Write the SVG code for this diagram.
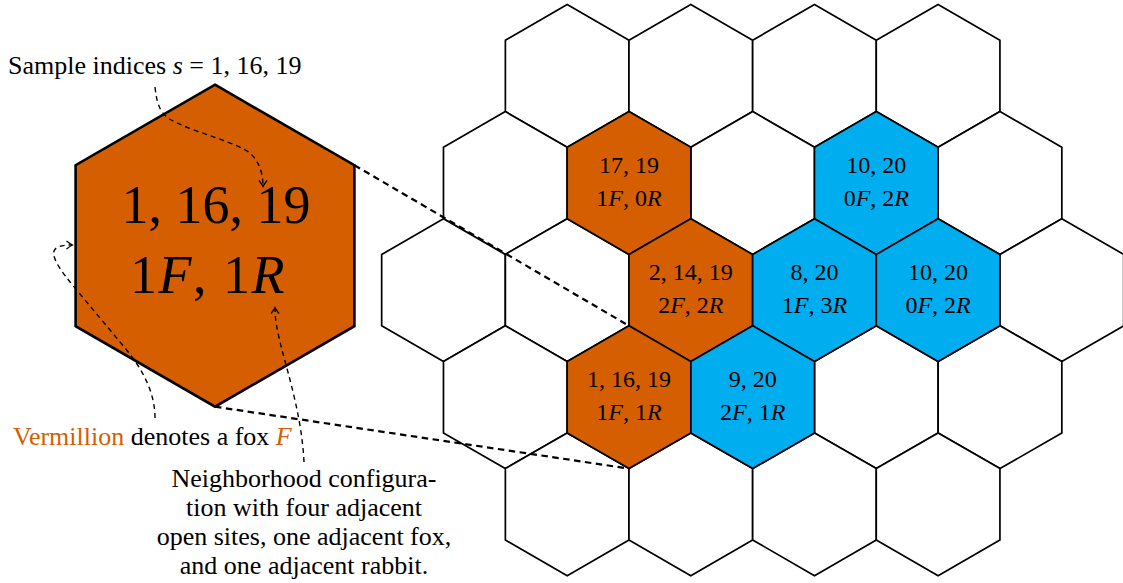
<svg xmlns="http://www.w3.org/2000/svg" xmlns:xlink="http://www.w3.org/1999/xlink" width="1123" height="583" viewBox="0 0 1123 583">
<style>
.hx{stroke:#000;stroke-width:1.7;stroke-linejoin:miter}
.w{fill:#fff}
.o{fill:#D55E00}
.b{fill:#00AEEF}
.t{font-family:"Liberation Serif","Times New Roman",serif;font-size:24px;fill:#000;text-anchor:middle}
.big{font-family:"Liberation Serif","Times New Roman",serif;font-size:54px;fill:#000;text-anchor:middle}
.lab{font-family:"Liberation Serif","Times New Roman",serif;font-size:26px;fill:#000}
.i{font-style:italic}
.ver{fill:#D55E00}
.conn{fill:none;stroke:#000;stroke-width:2.2;stroke-dasharray:6.5 4.5}
.ann{fill:none;stroke:#000;stroke-width:1.4;stroke-dasharray:5 4;marker-end:url(#arr)}
</style>
<defs>
<polygon id="hex" points="0,-71.4 61.83,-35.7 61.83,35.7 0,71.4 -61.83,35.7 -61.83,-35.7"/>
<marker id="arr" markerWidth="14" markerHeight="14" refX="0" refY="0" viewBox="-7 -7 14 14" orient="auto" markerUnits="userSpaceOnUse">
<path d="M-5.5,-4 Q-2,-1.2 0.5,0 Q-2,1.2 -5.5,4" fill="none" stroke="#000" stroke-width="1.3"/>
</marker>
</defs>
<g id="grid">
<g id="row0">
<use xlink:href="#hex" href="#hex" x="567.2" y="75.9" class="hx w"/>
<use xlink:href="#hex" href="#hex" x="690.8" y="75.9" class="hx w"/>
<use xlink:href="#hex" href="#hex" x="814.5" y="75.9" class="hx w"/>
<use xlink:href="#hex" href="#hex" x="938.1" y="75.9" class="hx w"/>
</g>
<g id="row1">
<use xlink:href="#hex" href="#hex" x="505.3" y="183" class="hx w"/>
<use xlink:href="#hex" href="#hex" x="752.7" y="183" class="hx w"/>
<use xlink:href="#hex" href="#hex" x="1000" y="183" class="hx w"/>
</g>
<g id="row2">
<use xlink:href="#hex" href="#hex" x="443.5" y="290.1" class="hx w"/>
<use xlink:href="#hex" href="#hex" x="567.2" y="290.1" class="hx w"/>
<use xlink:href="#hex" href="#hex" x="1061.8" y="290.1" class="hx w"/>
</g>
<g id="row3">
<use xlink:href="#hex" href="#hex" x="505.3" y="397.2" class="hx w"/>
<use xlink:href="#hex" href="#hex" x="876.3" y="397.2" class="hx w"/>
<use xlink:href="#hex" href="#hex" x="1000" y="397.2" class="hx w"/>
</g>
<g id="row4">
<use xlink:href="#hex" href="#hex" x="567.2" y="504.3" class="hx w"/>
<use xlink:href="#hex" href="#hex" x="690.8" y="504.3" class="hx w"/>
<use xlink:href="#hex" href="#hex" x="814.5" y="504.3" class="hx w"/>
<use xlink:href="#hex" href="#hex" x="938.1" y="504.3" class="hx w"/>
</g>
</g>
<g id="cell-17-19">
<use xlink:href="#hex" href="#hex" x="629" y="183" class="hx o"/>
<text class="t" x="629" y="172.7">17, 19</text>
<text class="t" x="629" y="205.5">1<tspan class="i">F</tspan>, 0<tspan class="i">R</tspan></text>
</g>
<g id="cell-10-20-a">
<use xlink:href="#hex" href="#hex" x="876.3" y="183" class="hx b"/>
<text class="t" x="876.3" y="172.7">10, 20</text>
<text class="t" x="876.3" y="205.5">0<tspan class="i">F</tspan>, 2<tspan class="i">R</tspan></text>
</g>
<g id="cell-2-14-19">
<use xlink:href="#hex" href="#hex" x="690.8" y="290.1" class="hx o"/>
<text class="t" x="690.8" y="279.8">2, 14, 19</text>
<text class="t" x="690.8" y="312.6">2<tspan class="i">F</tspan>, 2<tspan class="i">R</tspan></text>
</g>
<g id="cell-8-20">
<use xlink:href="#hex" href="#hex" x="814.5" y="290.1" class="hx b"/>
<text class="t" x="814.5" y="279.8">8, 20</text>
<text class="t" x="814.5" y="312.6">1<tspan class="i">F</tspan>, 3<tspan class="i">R</tspan></text>
</g>
<g id="cell-10-20-b">
<use xlink:href="#hex" href="#hex" x="938.1" y="290.1" class="hx b"/>
<text class="t" x="938.1" y="279.8">10, 20</text>
<text class="t" x="938.1" y="312.6">0<tspan class="i">F</tspan>, 2<tspan class="i">R</tspan></text>
</g>
<g id="cell-1-16-19">
<use xlink:href="#hex" href="#hex" x="629" y="397.2" class="hx o"/>
<text class="t" x="629" y="386.9">1, 16, 19</text>
<text class="t" x="629" y="419.7">1<tspan class="i">F</tspan>, 1<tspan class="i">R</tspan></text>
</g>
<g id="cell-9-20">
<use xlink:href="#hex" href="#hex" x="752.7" y="397.2" class="hx b"/>
<text class="t" x="752.7" y="386.9">9, 20</text>
<text class="t" x="752.7" y="419.7">2<tspan class="i">F</tspan>, 1<tspan class="i">R</tspan></text>
</g>
<g id="big-hex">
<polygon points="215,84.7 354.4,165.2 354.4,326.2 215,406.7 75.6,326.2 75.6,165.2" fill="#D55E00" stroke="#000" stroke-width="2.6"/>
<text class="big" x="216" y="223.3">1, 16, 19</text>
<text class="big" x="208" y="293.3" letter-spacing="1.5">1<tspan class="i">F</tspan>, 1<tspan class="i">R</tspan></text>
</g>
<g id="connectors">
<line class="conn" x1="354.4" y1="165.2" x2="629" y2="325.8"/>
<line class="conn" x1="215" y1="406.7" x2="629" y2="468.6"/>
<path class="ann" d="M155,87 C157,105 160,115 175,122 C200,134 235,142 250,153 C260,162 263,175 263,186"/>
<path class="ann" d="M155,418 C155,395 145,372 125,348 L75,288 C60,270 52,258 54,251 C56,246 63,245 72,245"/>
<path class="ann" d="M304,462 C302,420 290,380 282,350 C277,330 275,320 275,308"/>
</g>
<g id="label-sample">
<text class="lab" x="8" y="74.3">Sample indices <tspan class="i">s</tspan> = 1, 16, 19</text>
</g>
<g id="label-vermillion">
<text class="lab" x="13" y="445"><tspan class="ver">Vermillion</tspan> denotes a fox <tspan class="i ver">F</tspan></text>
</g>
<g id="label-neighborhood">
<text class="lab" text-anchor="middle" x="304" y="486.5">Neighborhood configura-</text>
<text class="lab" text-anchor="middle" x="304" y="515.5">tion with four adjacent</text>
<text class="lab" text-anchor="middle" x="304" y="544.5">open sites, one adjacent fox,</text>
<text class="lab" text-anchor="middle" x="304" y="573.5">and one adjacent rabbit.</text>
</g>
</svg>
